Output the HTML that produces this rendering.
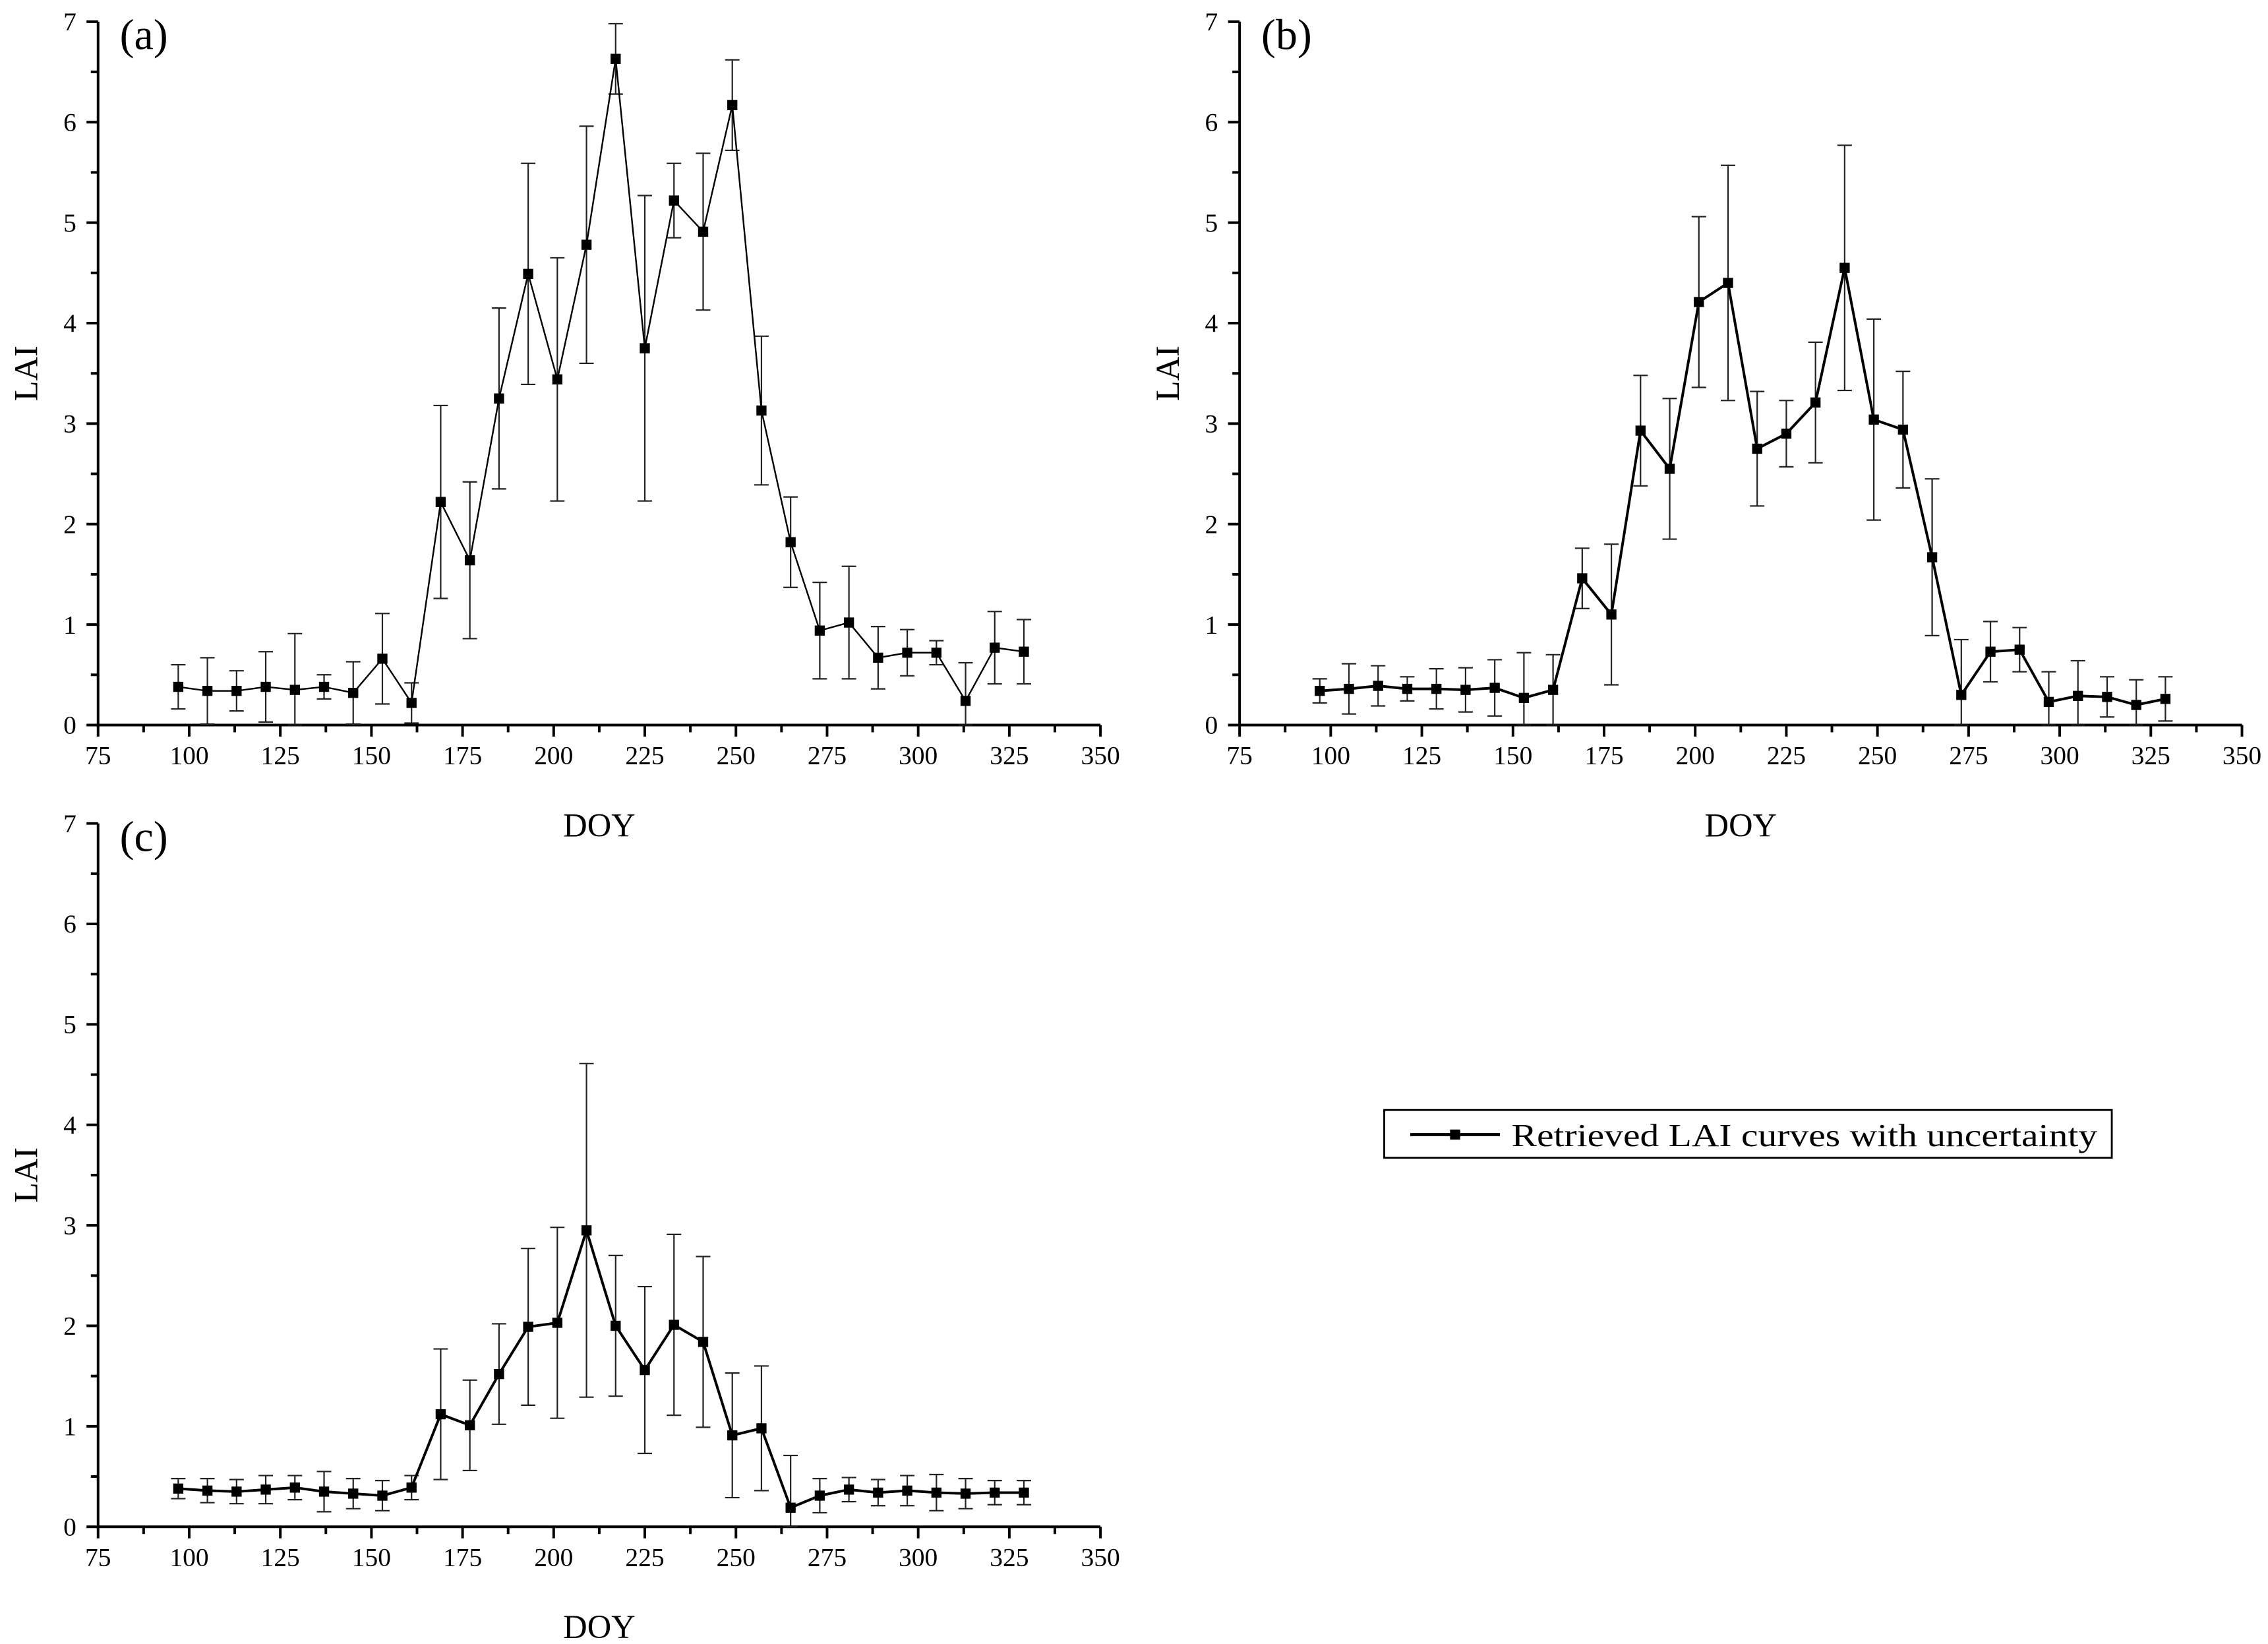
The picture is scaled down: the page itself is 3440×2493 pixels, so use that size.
<!DOCTYPE html>
<html><head><meta charset="utf-8"><style>
html,body{margin:0;padding:0;background:#fff;}
svg{display:block;}
text{font-family:"Liberation Serif",serif;fill:#000;}
</style></head><body>
<svg id="chart" width="3440" height="2493" viewBox="0 0 1568 1136" preserveAspectRatio="none" xmlns="http://www.w3.org/2000/svg">
<rect width="1568" height="1136" fill="#fff"/>
<g>
<rect x="957" y="767" width="503" height="33" fill="#fff" stroke="#000" stroke-width="1.3"/>
<line x1="975" y1="784" x2="1037" y2="784" stroke="#000" stroke-width="2.2"/>
<rect x="1002.5" y="780.5" width="7" height="7" fill="#000"/>
<text x="1045" y="792" font-size="22" textLength="405" lengthAdjust="spacingAndGlyphs">Retrieved LAI curves with uncertainty</text>
</g>
</svg>
<script>
const doy=[97,105,113,121,129,137,145,153,161,169,177,185,193,201,209,217,225,233,241,249,257,265,273,281,289,297,305,313,321,329];
const laiA=[0.38,0.34,0.34,0.38,0.35,0.38,0.32,0.66,0.22,2.22,1.64,3.25,4.49,3.44,4.78,6.63,3.75,5.22,4.91,6.17,3.13,1.82,0.94,1.02,0.67,0.72,0.72,0.24,0.77,0.73];
const errA=[0.22,0.33,0.2,0.35,0.56,0.12,0.31,0.45,0.2,0.96,0.78,0.9,1.1,1.21,1.18,0.35,1.52,0.37,0.78,0.45,0.74,0.45,0.48,0.56,0.31,0.23,0.12,0.38,0.36,0.32];
const laiB=[0.34,0.36,0.39,0.36,0.36,0.35,0.37,0.27,0.35,1.46,1.1,2.93,2.55,4.21,4.4,2.75,2.9,3.21,4.55,3.04,2.94,1.67,0.3,0.73,0.75,0.23,0.29,0.28,0.2,0.26];
const errB=[0.12,0.25,0.2,0.12,0.2,0.22,0.28,0.45,0.35,0.3,0.7,0.55,0.7,0.85,1.17,0.57,0.33,0.6,1.22,1.0,0.58,0.78,0.55,0.3,0.22,0.3,0.35,0.2,0.25,0.22];
const laiC=[0.38,0.36,0.35,0.37,0.39,0.35,0.33,0.31,0.39,1.12,1.01,1.52,1.99,2.03,2.95,2.0,1.56,2.01,1.84,0.91,0.98,0.19,0.31,0.37,0.34,0.36,0.34,0.33,0.34,0.34];
const errC=[0.1,0.12,0.12,0.14,0.12,0.2,0.15,0.15,0.12,0.65,0.45,0.5,0.78,0.95,1.66,0.7,0.83,0.9,0.85,0.62,0.62,0.52,0.17,0.12,0.13,0.15,0.18,0.15,0.12,0.12];
const xTicks=[75,100,125,150,175,200,225,250,275,300,325,350];
const yTicks=[0,1,2,3,4,5,6,7];
const NS="http://www.w3.org/2000/svg";
const svg=document.getElementById('chart');
function mk(tag,attrs,parent){const e=document.createElementNS(NS,tag);for(const k in attrs)e.setAttribute(k,attrs[k]);parent.appendChild(e);return e;}
function panel(name,label,x0,y0,vals,errs,lw){
  const xs=v=>x0+(v-75)/25*63.0;
  const ys=v=>y0-v*69.43;
  const g=mk('g',{},svg);
  
  
  // axes
  const ax=mk('g',{stroke:'#000','stroke-width':1.8,fill:'none'},g);
  
  
  mk('line',{x1:xs(75),y1:y0,x2:xs(350),y2:y0},ax);
  mk('line',{x1:xs(75),y1:y0,x2:xs(75),y2:ys(7)},ax);
  xTicks.forEach((t,i)=>{
    mk('line',{x1:xs(t),y1:y0,x2:xs(t),y2:y0+8},ax);
    if(i<xTicks.length-1)mk('line',{x1:xs(t+12.5),y1:y0,x2:xs(t+12.5),y2:y0+5},ax);
    const tx=mk('text',{x:xs(t),y:y0+27,'font-size':18,'text-anchor':'middle',stroke:'none'},g);
    
    
    tx.textContent=t;
  });
  yTicks.forEach((t,i)=>{
    mk('line',{x1:xs(75)-8,y1:ys(t),x2:xs(75),y2:ys(t)},ax);
    if(i<yTicks.length-1)mk('line',{x1:xs(75)-5,y1:ys(t+0.5),x2:xs(75),y2:ys(t+0.5)},ax);
    const tx=mk('text',{x:xs(75)-15,y:ys(t)+6,'font-size':18,'text-anchor':'end',stroke:'none'},g);
    
    
    tx.textContent=t;
  });
  const xt=mk('text',{x:xs(212.5),y:y0+77,'font-size':23,'text-anchor':'middle'},g);
  
  
  xt.textContent='DOY';
  const yc=y0-243;
  const yt=mk('text',{x:x0-42,y:yc,'font-size':23,'text-anchor':'middle',transform:`rotate(-90 ${x0-42} ${yc})`},g);
  
  
  yt.textContent='LAI';
  const pl=mk('text',{x:x0+15,y:ys(7)+19,'font-size':30},g);
  
  
  pl.textContent=label;
  // error bars
  const eg=mk('g',{stroke:'#222','stroke-width':1},g);
  
  
  doy.forEach((d,i)=>{
    const x=xs(d),lo=Math.max(0,vals[i]-errs[i]),hi=vals[i]+errs[i];
    const b=mk('path',{d:`M${x},${ys(lo)}V${ys(hi)}M${x-5},${ys(hi)}h10M${x-5},${ys(lo)}h10`,fill:'none'},eg);
    
    
  });
  const line=mk('polyline',{points:doy.map((d,i)=>xs(d)+','+ys(vals[i])).join(' '),fill:'none',stroke:'#000','stroke-width':lw},g);
  
  
  doy.forEach((d,i)=>{
    const m=mk('rect',{x:xs(d)-3.5,y:ys(vals[i])-3.5,width:7,height:7,fill:'#000'},g);
    
    
  });
}
panel('a','(a)',67.8,501,laiA,errA,1.1);
panel('b','(b)',857,501,laiB,errB,1.8);
panel('c','(c)',67.8,1055,laiC,errC,1.8);
</script>
</body></html>
